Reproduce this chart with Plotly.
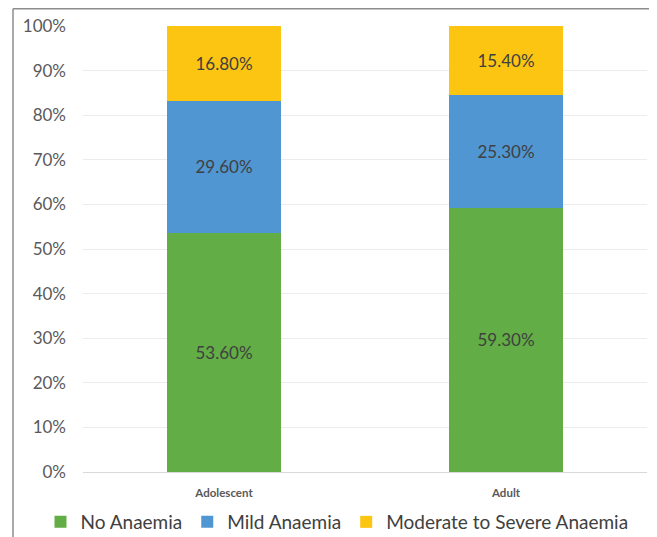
import plotly.graph_objects as go

categories = ["Adolescent", "Adult"]
no_anaemia = [53.6, 59.3]
mild_anaemia = [29.6, 25.3]
moderate_severe = [16.8, 15.4]
series_names = ["No Anaemia", "Mild Anaemia", "Moderate to Severe Anaemia"]
colors = ["#62ad45", "#5096d3", "#fcc512"]
y_ticks = [0, 10, 20, 30, 40, 50, 60, 70, 80, 90, 100]

FONT = "Lato, Open Sans, sans-serif"

fig = go.Figure()
for name, vals, col in zip(series_names, [no_anaemia, mild_anaemia, moderate_severe], colors):
    fig.add_trace(go.Bar(
        x=categories, y=vals, name=name,
        marker=dict(color=col, line=dict(width=0)),
        texttemplate="%{y:.2f}%", textposition="inside",
        insidetextanchor="middle", textangle=0,
        textfont=dict(family=FONT, size=17, color="#404040"),
        hoverinfo="skip",
    ))

# page has an 8px body margin; work in reference-pixel coords minus 8
OFF = 8
W, H = 657 - OFF, 537 - OFF
T = 26 - OFF
BOT = 472 - OFF
PL, PR = 83 - OFF, 647 - OFF
ph = BOT - T

def px(x):
    return (x - OFF) / W

def py(y):
    return (BOT - (y - OFF)) / ph

fig.update_layout(
    width=W, height=H,
    margin=dict(l=0, r=0, t=T, b=H - BOT, autoexpand=False),
    barmode="stack", bargap=0.595,
    plot_bgcolor="white", paper_bgcolor="white",
    font=dict(family=FONT, color="#595959"),
    showlegend=True,
    legend=dict(
        orientation="h", x=px(337), xanchor="center", y=py(522), yanchor="middle",
        font=dict(size=19, color="#404040"), itemwidth=30, traceorder="normal",
        tracegroupgap=0,
    ),
    xaxis=dict(
        domain=[PL / W, PR / W],
        showgrid=False, showline=False, ticks="",
        tickfont=dict(size=11.5, color="#595959", weight="bold"),
        ticklabelstandoff=12, automargin=False,
    ),
    yaxis=dict(
        range=[0, 100], tickvals=y_ticks,
        ticktext=[f"{v}%" for v in y_ticks],
        showgrid=True, gridcolor="#ececec", gridwidth=1,
        zeroline=True, zerolinecolor="#d9d9d9", zerolinewidth=1,
        showline=False, ticks="",
        tickfont=dict(size=17, color="#595959"),
        ticklabelstandoff=16, automargin=False,
    ),
    shapes=[
        dict(type="line", xref="paper", yref="paper",
             x0=px(13), x1=1, y0=py(8.7), y1=py(8.7),
             line=dict(color="#8c8c8c", width=1.5)),
        dict(type="line", xref="paper", yref="paper",
             x0=px(13), x1=px(13), y0=py(8.7), y1=py(537),
             line=dict(color="#8c8c8c", width=1.5)),
    ],
)

fig.write_html("out.html")
